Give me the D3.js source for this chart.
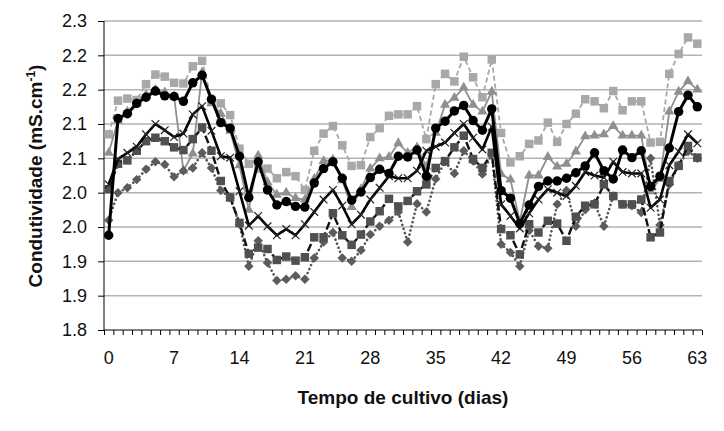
<!DOCTYPE html>
<html><head><meta charset="utf-8">
<script src="https://cdn.jsdelivr.net/npm/d3@7/dist/d3.min.js"></script>
<style>
html,body{margin:0;padding:0;background:#fff;}
text{font-family:"Liberation Sans",Arial,Helvetica,sans-serif;}
</style></head>
<body>
<svg id="chart" width="724" height="431"></svg>
<script>
const days = d3.range(0, 64);
const xTickLabels = [0, 7, 14, 21, 28, 35, 42, 49, 56, 63];
const yTickValues = [1.80, 1.85, 1.90, 1.95, 2.00, 2.05, 2.10, 2.15, 2.20, 2.25];
const yTickLabels = ["1.8", "1.9", "1.9", "2.0", "2.0", "2.1", "2.1", "2.2", "2.2", "2.3"];

const serieLightSquares = [2.085,2.134,2.137,2.135,2.158,2.172,2.169,2.160,2.159,2.184,2.192,2.135,2.130,2.113,2.064,2.042,2.035,2.035,2.021,2.030,2.024,2.004,2.061,2.086,2.097,2.069,2.039,2.040,2.081,2.094,2.112,2.114,2.114,2.126,2.078,2.158,2.173,2.162,2.198,2.168,2.139,2.194,2.087,2.044,2.053,2.071,2.076,2.102,2.074,2.100,2.115,2.136,2.133,2.123,2.148,2.120,2.133,2.133,2.073,2.074,2.173,2.202,2.226,2.217];
const serieTriangles = [2.058,2.105,2.118,2.130,2.142,2.150,2.146,2.140,2.032,2.057,2.175,2.130,2.115,2.090,2.040,1.975,2.054,2.015,1.997,2.000,1.992,1.990,2.020,2.046,2.048,2.018,1.979,2.005,2.035,2.050,2.052,2.072,2.058,2.066,2.038,2.087,2.128,2.138,2.153,2.128,2.118,2.147,2.027,2.019,1.958,2.025,2.025,2.052,2.038,2.042,2.060,2.082,2.083,2.085,2.097,2.083,2.083,2.083,2.002,2.020,2.118,2.147,2.162,2.150];
const serieCircles = [1.938,2.108,2.115,2.130,2.139,2.148,2.141,2.140,2.133,2.160,2.171,2.136,2.102,2.094,2.053,1.993,2.045,2.004,1.982,1.987,1.980,1.979,2.014,2.035,2.045,2.021,1.989,2.001,2.022,2.034,2.028,2.053,2.052,2.062,2.024,2.094,2.104,2.119,2.127,2.105,2.091,2.122,2.003,1.992,1.955,1.982,2.009,2.017,2.017,2.021,2.029,2.039,2.058,2.032,2.020,2.062,2.051,2.061,2.009,2.024,2.065,2.118,2.142,2.125];
const serieCrosses = [2.012,2.049,2.058,2.067,2.085,2.100,2.091,2.081,2.086,2.114,2.126,2.090,2.053,2.051,2.002,1.952,1.966,1.951,1.938,1.947,1.938,1.954,1.972,1.990,2.004,1.981,1.954,1.968,1.990,2.007,2.024,2.021,2.021,2.032,2.061,2.067,2.073,2.087,2.100,2.080,2.063,2.096,1.983,1.966,1.948,1.970,1.990,2.005,2.000,1.995,2.010,2.030,2.025,2.022,2.045,2.030,2.028,2.028,1.978,1.990,2.040,2.060,2.085,2.072];
const serieDarkSquares = [2.005,2.042,2.047,2.061,2.075,2.080,2.075,2.066,2.062,2.078,2.095,2.061,2.017,1.993,1.956,1.911,1.920,1.918,1.902,1.907,1.901,1.906,1.935,1.935,1.970,1.938,1.924,1.939,1.958,1.973,1.991,1.980,1.988,2.002,2.012,2.036,2.046,2.066,2.083,2.049,2.036,2.058,1.947,1.938,1.910,1.954,1.942,1.959,1.955,1.930,1.965,1.981,1.983,2.012,1.995,1.983,1.983,1.990,1.935,1.942,2.017,2.039,2.068,2.051];
const serieDiamonds = [1.960,2.000,2.007,2.019,2.034,2.045,2.041,2.023,2.032,2.036,2.058,2.036,2.003,1.993,1.954,1.893,1.930,1.898,1.872,1.874,1.879,1.874,1.905,1.928,1.942,1.905,1.900,1.916,1.939,1.951,1.960,1.972,1.928,1.984,1.972,2.020,2.045,2.028,2.061,2.046,2.027,2.056,1.925,1.913,1.893,1.945,1.922,1.919,1.983,2.003,1.951,1.975,1.985,1.951,1.995,1.983,1.981,1.971,2.050,1.953,2.012,2.040,2.060,2.050];

const svg = d3.select("#chart");
const L = 104, R = 702, T = 21, B = 330;

const x = d3.scaleBand().domain(days).range([L, R]).padding(0);
const xc = d => x(d) + x.bandwidth() / 2;
const y = d3.scaleLinear().domain([1.80, 2.25]).range([B, T]);

// gridlines
svg.append("g").selectAll("line").data(yTickValues.slice(1)).join("line")
  .attr("x1", L).attr("x2", R).attr("y1", d => y(d)).attr("y2", d => y(d))
  .attr("stroke", "#b3b3b3").attr("stroke-width", 1.5);

// y axis
const yAxis = svg.append("g").attr("transform", `translate(${L},0)`)
  .call(d3.axisLeft(y).tickValues(yTickValues).tickSize(6).tickPadding(11)
    .tickFormat((d, i) => yTickLabels[i]));
yAxis.select(".domain").attr("stroke", "#000").attr("d", `M0,${B}V${T}`);
yAxis.selectAll(".tick line").attr("stroke", "#000");
yAxis.selectAll("text").attr("font-size", 18).attr("fill", "#111")
  .attr("font-family", "'Liberation Sans', Arial, sans-serif");

// x axis tick marks at category boundaries
const xEdge = d3.scaleLinear().domain([0, 64]).range([L, R]);
const xMarks = svg.append("g").attr("transform", `translate(0,${B})`)
  .call(d3.axisBottom(xEdge).tickValues(d3.range(0, 65)).tickSize(5).tickFormat(""));
xMarks.select(".domain").attr("stroke", "#000").attr("d", `M${L},0H${R}`);
xMarks.selectAll(".tick line").attr("stroke", "#000");

// x labels
const xLab = svg.append("g").attr("transform", `translate(0,${B})`)
  .call(d3.axisBottom(x).tickValues(xTickLabels).tickSize(0).tickPadding(21));
xLab.select(".domain").remove();
xLab.selectAll("text").attr("font-size", 18).attr("fill", "#111")
  .attr("font-family", "'Liberation Sans', Arial, sans-serif");

// titles
svg.append("text").attr("x", 403).attr("y", 404).attr("text-anchor", "middle")
  .attr("font-size", 19).attr("font-weight", "bold").attr("fill", "#111")
  .text("Tempo de cultivo (dias)");
const yt = svg.append("text").attr("transform", "translate(42,176) rotate(-90)")
  .attr("text-anchor", "middle").attr("font-size", 19).attr("font-weight", "bold").attr("fill", "#111");
yt.append("tspan").text("Condutividade (mS.cm");
yt.append("tspan").attr("dy", -7).attr("font-size", 12).text("-1");
yt.append("tspan").attr("dy", 7).text(")");

const line = d3.line().x((d, i) => xc(days[i])).y(d => y(d));
const plot = svg.append("g");

function drawSeries(vals, lineStyle, marker) {
  plot.append("path").datum(vals).attr("d", line).attr("fill", "none")
    .attr("stroke", lineStyle.color).attr("stroke-width", lineStyle.width)
    .attr("stroke-dasharray", lineStyle.dash || null)
    .attr("stroke-linecap", lineStyle.cap || "butt")
    .attr("stroke-linejoin", "round");
  plot.append("g").selectAll("path").data(vals).join("path")
    .attr("transform", (d, i) => `translate(${xc(days[i])},${y(d)}) rotate(${marker.rotate || 0})`)
    .attr("d", d3.symbol().type(marker.type).size(marker.size))
    .attr("fill", marker.fill).attr("stroke", marker.stroke || "none")
    .attr("stroke-width", marker.sw || 0);
}

drawSeries(serieLightSquares, {color: "#a8a8a8", width: 1.8, dash: "5,3"},
  {type: d3.symbolSquare, size: 72, fill: "#a8a8a8"});
drawSeries(serieTriangles, {color: "#8f8f8f", width: 1.8},
  {type: d3.symbolTriangle, size: 45, fill: "#8f8f8f"});
drawSeries(serieDiamonds, {color: "#555", width: 2.6, dash: "0.1,4.2", cap: "round"},
  {type: d3.symbolSquare, size: 45, fill: "#5c5c5c", rotate: 45});
drawSeries(serieDarkSquares, {color: "#111", width: 2.4, dash: "8,3"},
  {type: d3.symbolSquare, size: 72, fill: "#505050"});
drawSeries(serieCrosses, {color: "#000", width: 2.6},
  {type: d3.symbolTimes || d3.symbolX, size: 40, fill: "none", stroke: "#222", sw: 1.2});
drawSeries(serieCircles, {color: "#000", width: 3},
  {type: d3.symbolCircle, size: 70, fill: "#000"});
</script>
</body></html>
